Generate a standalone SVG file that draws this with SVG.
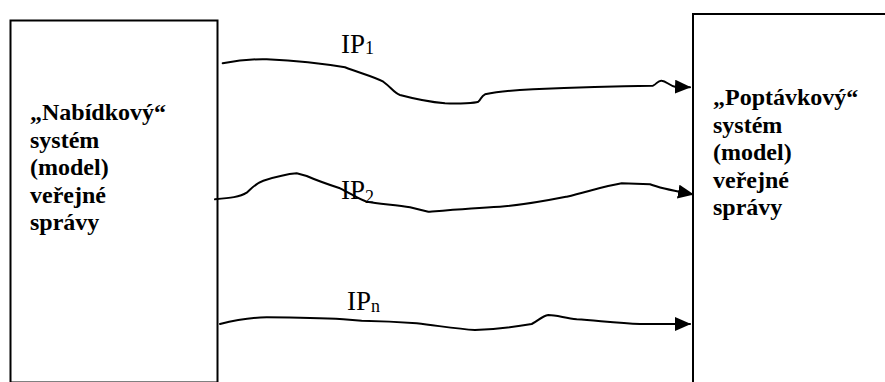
<svg xmlns="http://www.w3.org/2000/svg" width="885" height="382" viewBox="0 0 885 382">
<style>
.box{fill:#fff;stroke:#000;stroke-width:2}
.lbl{font-family:"Liberation Serif","Times New Roman",serif;font-weight:bold;font-size:24px;fill:#000}
.ip{font-family:"Liberation Serif","Times New Roman",serif;font-size:27px;fill:#000}
.sub{font-size:18px}
.wire{fill:none;stroke:#000;stroke-width:2;stroke-linejoin:round;stroke-linecap:round}
</style>
<defs>
<marker id="ah" markerWidth="16" markerHeight="14" refX="15" refY="7" orient="auto" markerUnits="userSpaceOnUse">
<path d="M0,0 L16,7 L0,14 Z" fill="#000"/>
</marker>
</defs>
<rect width="885" height="382" fill="#fff"/>
<g id="nabidkovy">
<rect class="box" x="10.5" y="20.5" width="207" height="362"/>
<text class="lbl">
<tspan x="30" y="120">„Nabídkový“</tspan>
<tspan x="30" y="147.5">systém</tspan>
<tspan x="30" y="175">(model)</tspan>
<tspan x="30" y="202.5">veřejné</tspan>
<tspan x="30" y="230">správy</tspan>
</text>
</g>
<g id="poptavkovy">
<rect class="box" x="693" y="14" width="200" height="372"/>
<text class="lbl">
<tspan x="713" y="105">„Poptávkový“</tspan>
<tspan x="713" y="132.5">systém</tspan>
<tspan x="713" y="160">(model)</tspan>
<tspan x="713" y="187.5">veřejné</tspan>
<tspan x="713" y="215">správy</tspan>
</text>
</g>
<g id="connectors">
<path class="wire" marker-end="url(#ah)" d="M222.7,63.3 C240,60 255,59 266.7,59.3 C300,61 325,64 345,67.3 C360,73 375,77 383.3,81.7 C392,88 394,93 400,95 C415,99 430,102 445,103.3 C460,104 475,103 478.3,101.7 C481,100 481,96 485,94.3 C500,91 515,90 533,89.3 C580,87 620,86 653,85.7 C657,84 658,80 661.7,80.7 C666,81 670,86 675,86.7 L690,87.3"/>
<path class="wire" marker-end="url(#ah)" d="M215,199.3 C230,198 240,197 246.7,192.7 C252,188 256,183 263.3,180.7 C275,177 288,174 296.7,173.3 L306.7,176 C318,181 330,185 340,188.3 C350,193 358,199 366.7,201.7 C380,204 398,205 410,207.3 L428.3,211.7 C450,210 475,208 500,206.7 C525,205 545,201 566.7,196.7 C590,191 605,186 621.7,183.3 L650,184.3 C662,189 675,191 693,194.3"/>
<path class="wire" marker-end="url(#ah)" d="M220,324 C235,320 250,317.5 266.7,317.3 C290,317.5 320,318 343.3,319.3 L361.7,320.7 C380,321 400,322 416.7,323.3 C440,326 458,329 475,330 C495,329 515,327 531.7,324 C538,321 542,316 548.3,315 C556,315 565,318 576.7,319.3 C600,321 620,323 640,324 L690,324"/>
</g>
<g id="labels">
<text class="ip" x="341" y="53">IP<tspan class="sub" dy="1">1</tspan></text>
<text class="ip" x="341" y="198.5">IP<tspan class="sub" dy="4">2</tspan></text>
<text class="ip" x="347" y="310">IP<tspan class="sub" dy="2">n</tspan></text>
</g>
</svg>
